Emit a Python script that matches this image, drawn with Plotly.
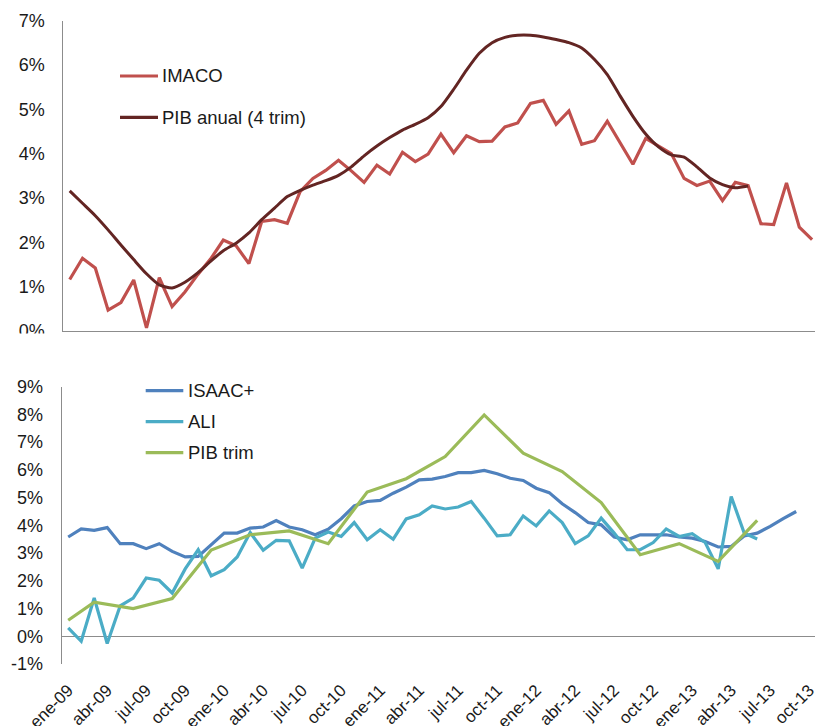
import plotly.graph_objects as go

# ---------------------------------------------------------------------------
# Datos (variación anual, %)
# ---------------------------------------------------------------------------
MESES = ["ene", "feb", "mar", "abr", "may", "jun", "jul", "ago", "sep", "oct", "nov", "dic"]
ANIOS = ["09", "10", "11", "12", "13"]
meses = [f"{m}-{a}" for a in ANIOS for m in MESES][:59]  # ene-09 ... nov-13

etiquetas_x = ["ene-09", "abr-09", "jul-09", "oct-09", "ene-10", "abr-10", "jul-10", "oct-10",
               "ene-11", "abr-11", "jul-11", "oct-11", "ene-12", "abr-12", "jul-12", "oct-12",
               "ene-13", "abr-13", "jul-13", "oct-13"]

etiquetas_y_sup = ["0%", "1%", "2%", "3%", "4%", "5%", "6%", "7%"]
valores_y_sup = [0, 1, 2, 3, 4, 5, 6, 7]
etiquetas_y_inf = ["-1%", "0%", "1%", "2%", "3%", "4%", "5%", "6%", "7%", "8%", "9%"]
valores_y_inf = [-1, 0, 1, 2, 3, 4, 5, 6, 7, 8, 9]

# Panel superior: ene-09 ... nov-13
imaco = [1.16, 1.64, 1.42, 0.47, 0.64, 1.15, 0.07, 1.20, 0.55, 0.88,
         1.27, 1.62, 2.05, 1.92, 1.52, 2.47, 2.51, 2.43, 3.14, 3.44,
         3.62, 3.85, 3.61, 3.35, 3.74, 3.54, 4.03, 3.82, 3.99, 4.44,
         4.02, 4.40, 4.27, 4.28, 4.60, 4.69, 5.13, 5.20, 4.66, 4.96,
         4.21, 4.29, 4.73, 4.24, 3.76, 4.34, 4.17, 4.00, 3.44, 3.28,
         3.38, 2.94, 3.35, 3.28, 2.42, 2.40, 3.34, 2.34, 2.06]

pib_anual = [3.16, 2.88, 2.60, 2.28, 1.94, 1.61, 1.29, 1.04, 0.97, 1.10,
             1.31, 1.57, 1.81, 1.98, 2.21, 2.51, 2.77, 3.03, 3.17, 3.29,
             3.39, 3.51, 3.70, 3.95, 4.17, 4.36, 4.53, 4.66, 4.81, 5.06,
             5.45, 5.88, 6.26, 6.50, 6.62, 6.67, 6.67, 6.63, 6.57, 6.50,
             6.38, 6.12, 5.78, 5.30, 4.84, 4.44, 4.15, 3.97, 3.92, 3.70,
             3.45, 3.30, 3.23, 3.27]

# Panel inferior: ene-09 ... oct-13
isaac = [3.58, 3.87, 3.82, 3.92, 3.34, 3.34, 3.16, 3.34, 3.06, 2.86,
         2.88, 3.30, 3.72, 3.72, 3.90, 3.94, 4.17, 3.94, 3.84, 3.66,
         3.86, 4.24, 4.70, 4.86, 4.90, 5.16, 5.38, 5.64, 5.67, 5.76,
         5.90, 5.90, 5.98, 5.86, 5.70, 5.62, 5.34, 5.18, 4.78, 4.46,
         4.10, 4.02, 3.58, 3.48, 3.66, 3.66, 3.66, 3.58, 3.54, 3.42,
         3.22, 3.24, 3.62, 3.72, 3.96, 4.24, 4.50]

ali = [0.30, -0.18, 1.38, -0.26, 1.10, 1.38, 2.10, 2.02, 1.56, 2.43,
       3.12, 2.18, 2.40, 2.86, 3.74, 3.10, 3.46, 3.44, 2.46, 3.54,
       3.76, 3.60, 4.10, 3.48, 3.84, 3.50, 4.23, 4.38, 4.70, 4.59,
       4.66, 4.86, 4.26, 3.62, 3.66, 4.34, 3.98, 4.52, 4.10, 3.34,
       3.62, 4.26, 3.72, 3.12, 3.12, 3.38, 3.87, 3.60, 3.70, 3.38,
       2.43, 5.04, 3.72, 3.51]

pib_trim_meses = ["ene-09", "mar-09", "jun-09", "sep-09", "dic-09", "mar-10", "jun-10",
                  "sep-10", "dic-10", "mar-11", "jun-11", "sep-11", "dic-11", "mar-12",
                  "jun-12", "sep-12", "dic-12", "mar-13", "jun-13"]
pib_trim = [0.58, 1.23, 1.00, 1.36, 3.11, 3.66, 3.80, 3.34, 5.20, 5.68,
            6.48, 7.98, 6.60, 5.94, 4.82, 2.94, 3.34, 2.70, 4.18]

nombres_sup = ["IMACO", "PIB anual (4 trim)"]
colores_sup = ["#C0504D", "#632523"]
nombres_inf = ["ISAAC+", "ALI", "PIB trim"]
colores_inf = ["#4F81BD", "#4BACC6", "#9BBB59"]

# ---------------------------------------------------------------------------
# Figura
# ---------------------------------------------------------------------------
W, H = 815, 726
FONT = "Arial, Liberation Sans, sans-serif"
TXT = "#1a1a1a"
EJE = "#8c8c8c"


def px(x):
    return x / W


def py(y):
    return 1 - y / H


fig = go.Figure()

fig.add_trace(go.Scatter(x=list(range(len(imaco))), y=imaco, mode="lines",
                         line=dict(color=colores_sup[0], width=3.2),
                         name=nombres_sup[0], xaxis="x", yaxis="y"))
fig.add_trace(go.Scatter(x=list(range(len(pib_anual))), y=pib_anual, mode="lines",
                         line=dict(color=colores_sup[1], width=3, shape="spline", smoothing=0.6),
                         name=nombres_sup[1], xaxis="x", yaxis="y"))

fig.add_trace(go.Scatter(x=list(range(len(isaac))), y=isaac, mode="lines",
                         line=dict(color=colores_inf[0], width=3.2),
                         name=nombres_inf[0], xaxis="x2", yaxis="y2"))
fig.add_trace(go.Scatter(x=list(range(len(ali))), y=ali, mode="lines",
                         line=dict(color=colores_inf[1], width=3.2),
                         name=nombres_inf[1], xaxis="x2", yaxis="y2"))
fig.add_trace(go.Scatter(x=[meses.index(m) for m in pib_trim_meses], y=pib_trim, mode="lines",
                         line=dict(color=colores_inf[2], width=3.2),
                         name=nombres_inf[2], xaxis="x2", yaxis="y2"))

tick_font = dict(family=FONT, size=18, color=TXT)

# Panel superior: ancho de categoría 12.8 px
x0_sup, y_top_sup, y_bot_sup, paso_sup = 63.3, 20.5, 331.0, 12.8
# Panel inferior: ancho de categoría 13 px
x0_inf, y_top_inf, y_bot_inf, paso_inf = 61.7, 386.7, 664.0, 13.0

fig.update_layout(
    width=W, height=H,
    margin=dict(l=0, r=0, t=0, b=0, autoexpand=False),
    paper_bgcolor="white", plot_bgcolor="white",
    showlegend=False,
    font=dict(family=FONT, color=TXT),
    xaxis=dict(domain=[px(x0_sup), 1], range=[-0.5, -0.5 + (W - x0_sup) / paso_sup],
               anchor="y", showticklabels=False, showgrid=False, zeroline=False,
               showline=True, linecolor=EJE, linewidth=1, ticks="", automargin=False),
    yaxis=dict(domain=[py(y_bot_sup), py(y_top_sup)], range=[0, 7], anchor="x",
               tickvals=valores_y_sup, ticktext=etiquetas_y_sup, tickfont=tick_font,
               showgrid=False, zeroline=False, showline=True, linecolor=EJE, linewidth=1,
               ticks="", ticklabelstandoff=14, automargin=False),
    xaxis2=dict(domain=[px(x0_inf), 1], range=[-0.5, -0.5 + (W - x0_inf) / paso_inf],
                anchor="y2", tickvals=[meses.index(t) for t in etiquetas_x], ticktext=etiquetas_x,
                tickangle=-45, tickfont=dict(family=FONT, size=17, color=TXT),
                ticklabeloverflow="allow",
                showgrid=False, zeroline=False, showline=False, ticks="", ticklabelstandoff=12,
                automargin=False),
    yaxis2=dict(domain=[py(y_bot_inf), py(y_top_inf)], range=[-1, 9], anchor="x2",
                tickvals=valores_y_inf, ticktext=etiquetas_y_inf, tickfont=tick_font,
                showgrid=False, zeroline=True, zerolinecolor=EJE, zerolinewidth=1,
                showline=True, linecolor=EJE, linewidth=1, ticks="", ticklabelstandoff=14,
                automargin=False),
)

shapes = []
annotations = []

# Recorte inferior del panel superior (la etiqueta 0% queda cortada)
shapes.append(dict(type="rect", xref="paper", yref="paper", layer="above",
                   x0=0, x1=px(60), y0=py(346), y1=py(333.5),
                   fillcolor="white", line=dict(width=0)))


def leyenda(nombres, colores, x_linea, x_texto, ys):
    for nombre, color, y in zip(nombres, colores, ys):
        shapes.append(dict(type="line", xref="paper", yref="paper", layer="above",
                           x0=px(x_linea[0]), x1=px(x_linea[1]), y0=py(y), y1=py(y),
                           line=dict(color=color, width=3.2)))
        annotations.append(dict(xref="paper", yref="paper", x=px(x_texto), y=py(y),
                                xanchor="left", yanchor="middle", showarrow=False,
                                text=nombre, font=dict(family=FONT, size=18.5, color=TXT)))


leyenda(nombres_sup, colores_sup, (120, 158), 160, [76, 117.3])
leyenda(nombres_inf, colores_inf, (145.7, 183.3), 185.5, [390.7, 421.7, 452.7])

fig.update_layout(shapes=shapes, annotations=annotations)

fig.write_html("out.html")
